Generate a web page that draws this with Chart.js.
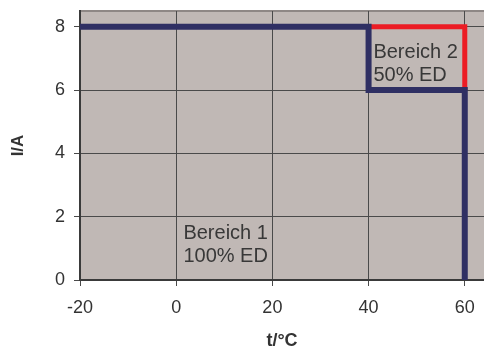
<!DOCTYPE html>
<html><head><meta charset="utf-8">
<script src="https://cdn.jsdelivr.net/npm/chart.js@4/dist/chart.umd.min.js"></script>
<style>html,body{margin:0;padding:0;background:#fff;}canvas{display:block;}</style>
</head><body>
<canvas id="c" width="484" height="352"></canvas>
<script>
// ---- data ----
const xTicks = [-20, 0, 20, 40, 60];
const yTicks = [0, 2, 4, 6, 8];
const range1X = [-20, 40, 40, 60, 60];
const range1Y = [8, 8, 6, 6, 0];
const range2X = [40, 60, 60];
const range2Y = [8, 8, 6];
const noteLines1 = ["Bereich 1", "100% ED"];
const noteLines2 = ["Bereich 2", "50% ED"];
const xAxisTitle = "t/°C";
const yAxisTitle = "I/A";

// ---- layout ----
const X_MIN = -20, X_MAX = 64, Y_MIN = 0, Y_MAX = 8.5;
const notes = [
  { lines: noteLines1, x: 1.5, y: 1.29 },
  { lines: noteLines2, x: 41.0, y: 7.02 }
];
const FONT = "'Liberation Sans', Arial, Helvetica, sans-serif";

const toPts = (xs, ys) => xs.map((x, i) => ({ x: x, y: ys[i] }));

const areaPlugin = {
  id: 'area',
  beforeDraw(chart) {
    const { ctx, chartArea: a } = chart;
    ctx.save();
    ctx.fillStyle = '#c0b8b5';
    ctx.fillRect(a.left, a.top, a.right - a.left, a.bottom - a.top);
    ctx.strokeStyle = '#8e8785';
    ctx.lineWidth = 2;
    ctx.beginPath();
    ctx.moveTo(a.left, a.top);
    ctx.lineTo(a.right, a.top);
    ctx.stroke();
    ctx.restore();
  },
  afterDatasetsDraw(chart) {
    const { ctx } = chart;
    const xs = chart.scales.x, ys = chart.scales.y;
    ctx.save();
    ctx.fillStyle = '#383838';
    ctx.font = '20px ' + FONT;
    ctx.textAlign = 'left';
    ctx.textBaseline = 'alphabetic';
    notes.forEach(n => {
      const px = xs.getPixelForValue(n.x);
      const py = ys.getPixelForValue(n.y);
      n.lines.forEach((t, i) => ctx.fillText(t, px, py + i * 23));
    });
    ctx.restore();
  }
};

new Chart(document.getElementById('c'), {
  type: 'scatter',
  data: {
    datasets: [
      { data: toPts(range1X, range1Y), showLine: true, borderColor: '#2f2f63', borderWidth: 6,
        pointRadius: 0, borderJoinStyle: 'miter', borderCapStyle: 'butt', tension: 0 },
      { data: toPts(range2X, range2Y), showLine: true, borderColor: '#ec1c24', borderWidth: 5,
        pointRadius: 0, borderJoinStyle: 'miter', borderCapStyle: 'butt', tension: 0 }
    ]
  },
  options: {
    responsive: false,
    animation: false,
    devicePixelRatio: 1,
    layout: { padding: { top: 11, right: 0, left: 0, bottom: 0 } },
    plugins: { legend: { display: false }, tooltip: { enabled: false } },
    scales: {
      x: {
        type: 'linear', min: X_MIN, max: X_MAX,
        afterBuildTicks: s => { s.ticks = xTicks.map(v => ({ value: v })); },
        afterFit: s => { s.height = 72; s.paddingLeft = 0; s.paddingRight = 0; },
        grid: { color: '#4a4a4a', lineWidth: 1, tickLength: 6, tickColor: '#4a4a4a' },
        border: { color: '#3a3a3a', width: 2 },
        ticks: { color: '#333', font: { family: FONT, size: 18 }, padding: 11, maxRotation: 0 },
        title: { display: true, text: xAxisTitle, color: '#333', font: { family: FONT, size: 18, weight: 'bold' }, padding: { top: 0, bottom: 0 } }
      },
      y: {
        type: 'linear', min: Y_MIN, max: Y_MAX,
        afterBuildTicks: s => { s.ticks = yTicks.map(v => ({ value: v })); },
        afterFit: s => { s.width = 80; s.paddingTop = 0; s.paddingBottom = 0; },
        grid: { color: '#4a4a4a', lineWidth: 1, tickLength: 6, tickColor: '#4a4a4a' },
        border: { color: '#3a3a3a', width: 2 },
        ticks: { color: '#333', font: { family: FONT, size: 18 }, padding: 9 },
        title: { display: true, text: yAxisTitle, color: '#333', font: { family: FONT, size: 17, weight: 'bold' }, padding: { top: 8, bottom: 0 } }
      }
    }
  },
  plugins: [areaPlugin]
});
</script>
</body></html>
